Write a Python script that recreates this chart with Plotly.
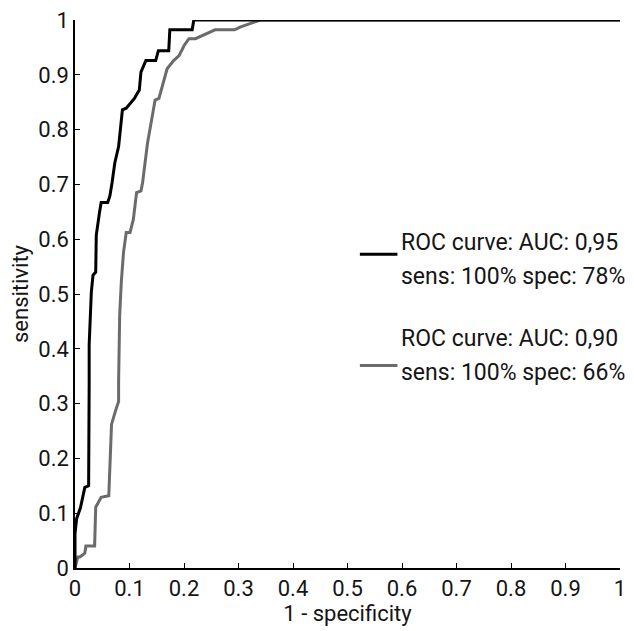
import plotly.graph_objects as go

# Black ROC curve (AUC 0.95)
fpr_a = [0, 0.0, 0.003, 0.010, 0.018, 0.025, 0.026, 0.026, 0.030, 0.033, 0.038, 0.039, 0.045, 0.048,
         0.060, 0.064, 0.068, 0.073, 0.080, 0.087, 0.094, 0.109, 0.118, 0.121, 0.130, 0.148,
         0.153, 0.172, 0.174, 0.215, 0.218, 1.0]
tpr_a = [0, 0.063, 0.09, 0.11, 0.147, 0.15, 0.34, 0.408, 0.504, 0.534, 0.54, 0.607, 0.649, 0.667,
         0.667, 0.679, 0.703, 0.739, 0.769, 0.836, 0.839, 0.857, 0.872, 0.905, 0.926, 0.926,
         0.944, 0.944, 0.982, 0.982, 1.0, 1.0]

# Gray ROC curve (AUC 0.90)
fpr_b = [0, 0.005, 0.009, 0.018, 0.020, 0.036, 0.038, 0.048, 0.062, 0.065, 0.067, 0.075, 0.080,
         0.080, 0.082, 0.085, 0.089, 0.094, 0.101, 0.107, 0.113, 0.121, 0.124, 0.133, 0.142,
         0.147, 0.154, 0.160, 0.169, 0.181, 0.191, 0.200, 0.209, 0.221, 0.257, 0.293, 0.303,
         0.340, 1.0]
tpr_b = [0, 0.02, 0.02, 0.027, 0.04, 0.04, 0.111, 0.129, 0.132, 0.196, 0.262, 0.289, 0.304,
         0.34, 0.462, 0.522, 0.576, 0.612, 0.612, 0.636, 0.685, 0.688, 0.703, 0.775, 0.830,
         0.854, 0.857, 0.878, 0.911, 0.926, 0.935, 0.953, 0.966, 0.966, 0.982, 0.982, 0.987,
         1.0, 1.0]

tick_vals = [0, 0.1, 0.2, 0.3, 0.4, 0.5, 0.6, 0.7, 0.8, 0.9, 1]
tick_text = ["0", "0.1", "0.2", "0.3", "0.4", "0.5", "0.6", "0.7", "0.8", "0.9", "1"]

legend_a = ["ROC curve: AUC: 0,95", "sens: 100% spec: 78%"]
legend_b = ["ROC curve: AUC: 0,90", "sens: 100% spec: 66%"]

BLACK = "#000000"
GRAY = "#6b6b6b"
FONT = "Roboto"
TXT = "#151515"

fig = go.Figure()
fig.add_trace(go.Scatter(x=fpr_b, y=tpr_b, mode="lines", line=dict(color=GRAY, width=3),
                         cliponaxis=False, showlegend=False))
fig.add_trace(go.Scatter(x=fpr_a, y=tpr_a, mode="lines", line=dict(color=BLACK, width=3),
                         cliponaxis=False, showlegend=False))

def py(pix):
    return (568 - pix) / 552.0

def px(pix):
    return (pix - 75) / 551.0

for line_y, t1, t2, col, lines in [(252, 240, 274, BLACK, legend_a), (364, 337, 371, GRAY, legend_b)]:
    fig.add_shape(type="line", xref="paper", yref="paper", x0=px(363), x1=px(401),
                  y0=py(line_y), y1=py(line_y), line=dict(color=col, width=3))
    fig.add_annotation(xref="paper", yref="paper", x=px(403), y=py(t1), xanchor="left",
                       yanchor="middle", text=lines[0], showarrow=False,
                       font=dict(family=FONT, size=23, color=TXT))
    fig.add_annotation(xref="paper", yref="paper", x=px(403), y=py(t2), xanchor="left",
                       yanchor="middle", text=lines[1], showarrow=False,
                       font=dict(family=FONT, size=23, color=TXT))

axis_common = dict(range=[0, 1], tickvals=tick_vals, ticktext=tick_text, ticks="inside",
                   ticklen=5, tickwidth=1, tickcolor="black", showgrid=False, zeroline=False,
                   showline=True, linecolor="black", linewidth=1.5,
                   tickfont=dict(family=FONT, size=22, color=TXT))

fig.update_xaxes(**axis_common, title=dict(text="1 - specificity", standoff=2,
                                            font=dict(family=FONT, size=22, color=TXT)))
fig.update_yaxes(**axis_common, title=dict(text="sensitivity", standoff=4,
                                            font=dict(family=FONT, size=22, color=TXT)))

fig.update_layout(width=634, height=631, margin=dict(l=75, r=8, t=16, b=63),
                  plot_bgcolor="white", paper_bgcolor="white")

fig.write_html("out.html")
